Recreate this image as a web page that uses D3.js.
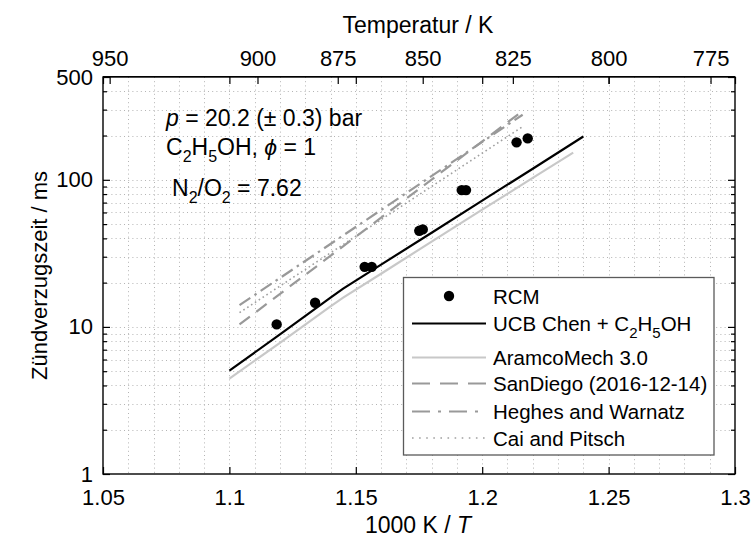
<!DOCTYPE html>
<html><head><meta charset="utf-8">
<script src="https://cdn.jsdelivr.net/npm/d3@7"></script>
<style>
body{margin:0;background:#fff}
text{font-family:"Liberation Sans",Arial,Helvetica,sans-serif;fill:#000}
</style>
</head><body>
<svg id="c" width="751" height="541"></svg>
<script>
// ---- data ----
const rcmX = [1.1187, 1.1339, 1.1535, 1.1563, 1.1751, 1.1765, 1.1919, 1.1936, 1.2136, 1.2180];
const rcmY = [10.4, 14.6, 25.6, 25.6, 45.0, 46.0, 85.1, 85.1, 179.7, 191.2];

const ucbX = [1.10, 1.12, 1.14, 1.145, 1.16, 1.18, 1.20, 1.22, 1.24];
const ucbY = [5.04, 8.9, 15.8, 18.2, 26.5, 43.7, 72.2, 119, 197];

const aramcoX = [1.10, 1.12, 1.14, 1.145, 1.16, 1.18, 1.20, 1.22, 1.236];
const aramcoY = [4.45, 7.8, 13.8, 15.8, 23.0, 38.0, 62.7, 103, 153];

const sandiegoX = [1.104, 1.216];
const sandiegoY = [10.4, 294];

const heghesX = [1.104, 1.216];
const heghesY = [14.05, 277];

const caiX = [1.104, 1.216];
const caiY = [12.5, 230];

const xTicks = [1.05, 1.1, 1.15, 1.2, 1.25, 1.3];
const xTickLabels = ["1.05", "1.1", "1.15", "1.2", "1.25", "1.3"];
const tempTicks = [950, 900, 875, 850, 825, 800, 775];
const yTicks = [1, 10, 100, 500];
const yMinorTicks = [2,3,4,5,6,7,8,9,20,30,40,50,60,70,80,90,200,300,400];

const legendLabels = ["RCM", "UCB Chen + C2H5OH", "AramcoMech 3.0", "SanDiego (2016-12-14)", "Heghes and Warnatz", "Cai and Pitsch"];

// ---- layout ----
const L = 103, R = 735, T = 77, B = 474;
const FS = 22, FT = 23;
const svg = d3.select("#c");
const x = d3.scaleLinear().domain([1.05, 1.3]).range([L, R]);
const y = d3.scaleLog().domain([1, 500]).range([B, T]);

// grid
const gridX = d3.range(106, 130).map(v => v / 100);
const gridY = yMinorTicks.concat([10, 100]);
const grid = svg.append("g").attr("stroke", "#b4b4b4").attr("stroke-width", 1).attr("stroke-dasharray", "1,3.2");
grid.selectAll("line.gx").data(gridX).join("line").attr("class","gx")
  .attr("x1", d => Math.round(x(d)) + 0.5).attr("x2", d => Math.round(x(d)) + 0.5).attr("y1", T).attr("y2", B);
grid.selectAll("line.gy").data(gridY).join("line").attr("class","gy")
  .attr("y1", d => Math.round(y(d)) + 0.5).attr("y2", d => Math.round(y(d)) + 0.5).attr("x1", L).attr("x2", R);

// series lines
const line = d3.line().x(d => x(d[0])).y(d => y(d[1]));
const zip = (a, b) => a.map((v, i) => [v, b[i]]);
const styles = [
  {xs: aramcoX, ys: aramcoY, stroke: "#c8c8c8", w: 2.2, dash: null, ldash: null},
  {xs: caiX, ys: caiY, stroke: "#a0a0a0", w: 1.6, dash: "1.6,3", ldash: "1.6,5.5"},
  {xs: heghesX, ys: heghesY, stroke: "#999", w: 2.2, dash: "13,5,2.5,5", ldash: "18,8,3,8"},
  {xs: sandiegoX, ys: sandiegoY, stroke: "#999", w: 2.2, dash: "13,8", ldash: "18,10"},
  {xs: ucbX, ys: ucbY, stroke: "#000", w: 2.2, dash: null, ldash: null}
];
styles.forEach(s => {
  svg.append("path").datum(zip(s.xs, s.ys)).attr("d", line)
    .attr("fill", "none").attr("stroke", s.stroke).attr("stroke-width", s.w)
    .attr("stroke-dasharray", s.dash);
});

// RCM points
svg.append("g").selectAll("circle").data(zip(rcmX, rcmY)).join("circle")
  .attr("cx", d => x(d[0])).attr("cy", d => y(d[1])).attr("r", 5.2).attr("fill", "#000");

// axes
function styleAxis(g) {
  g.select(".domain").remove();
  g.selectAll(".tick line").attr("stroke", "#000").attr("stroke-width", 1.2);
  g.selectAll("text").style("font-size", FS + "px").attr("fill", "#000");
}
svg.append("g").attr("transform", `translate(0,${B})`)
  .call(d3.axisBottom(x).tickValues(xTicks).tickFormat((d, i) => xTickLabels[i]).tickSize(-7).tickPadding(15))
  .call(styleAxis);
svg.append("g").attr("transform", `translate(0,${T})`)
  .call(d3.axisTop(x).tickValues(xTicks).tickFormat("").tickSize(-7))
  .call(styleAxis);
svg.append("g").attr("transform", `translate(0,${T})`)
  .call(d3.axisTop(x).tickValues(tempTicks.map(t => 1000 / t)).tickFormat(d => Math.round(1000 / d)).tickSize(-7).tickPadding(11))
  .call(styleAxis);
svg.append("g").attr("transform", `translate(${L},0)`)
  .call(d3.axisLeft(y).tickValues(yTicks).tickFormat(d3.format("d")).tickSize(-7).tickPadding(10))
  .call(styleAxis);
svg.append("g").attr("transform", `translate(${L},0)`)
  .call(d3.axisLeft(y).tickValues(yMinorTicks).tickFormat("").tickSize(-4))
  .call(styleAxis);
svg.append("g").attr("transform", `translate(${R},0)`)
  .call(d3.axisRight(y).tickValues(yTicks).tickFormat("").tickSize(-7))
  .call(styleAxis);
svg.append("g").attr("transform", `translate(${R},0)`)
  .call(d3.axisRight(y).tickValues(yMinorTicks).tickFormat("").tickSize(-4))
  .call(styleAxis);

// frame
svg.append("rect").attr("x", L).attr("y", T).attr("width", R - L).attr("height", B - T)
  .attr("fill", "none").attr("stroke", "#000").attr("stroke-width", 1.4);
svg.append("line").attr("x1", L).attr("x2", R).attr("y1", T - 0.5).attr("y2", T - 0.5)
  .attr("stroke", "#000").attr("stroke-width", 1);

// axis titles
svg.append("text").attr("x", 418).attr("y", 33).attr("text-anchor", "middle")
  .style("font-size", FT + "px").text("Temperatur / K");
const xt = svg.append("text").attr("x", 418).attr("y", 533).attr("text-anchor", "middle")
  .style("font-size", FT + "px");
xt.append("tspan").text("1000 K / ");
xt.append("tspan").attr("font-style", "italic").text("T");
svg.append("text").attr("transform", `translate(47,${(T + B) / 2}) rotate(-90)`).attr("text-anchor", "middle")
  .style("font-size", FS + "px").text("Zündverzugszeit / ms");

// annotation
function sub(t, s, fs) { t.append("tspan").attr("dy", 7).style("font-size", (fs || 16) + "px").text(s); }
function back(t, s) { t.append("tspan").attr("dy", -7).text(s); }
const a1 = svg.append("text").attr("x", 166).attr("y", 126).style("font-size", FT + "px");
a1.append("tspan").attr("font-style", "italic").text("p");
a1.append("tspan").text(" = 20.2 (\u00B1 0.3) bar");
const a2 = svg.append("text").attr("x", 166).attr("y", 155).style("font-size", FT + "px");
a2.append("tspan").text("C");
sub(a2, "2"); back(a2, "H"); sub(a2, "5"); back(a2, "OH, ");
a2.append("tspan").attr("font-style", "italic").text("\u03D5");
a2.append("tspan").text(" = 1");
const a3 = svg.append("text").attr("x", 172).attr("y", 196).style("font-size", FT + "px");
a3.append("tspan").text("N");
sub(a3, "2"); back(a3, "/O"); sub(a3, "2"); back(a3, " = 7.62");

// legend
const lg = svg.append("g");
lg.append("rect").attr("x", 403.5).attr("y", 277.5).attr("width", 310.5).attr("height", 177.5)
  .attr("fill", "#fff").attr("stroke", "#5a5a5a").attr("stroke-width", 1.3);
const rowY = [296, 323.5, 357.5, 383.5, 411.5, 438];
const lx1 = 412, lx2 = 486, tx = 493;
lg.append("circle").attr("cx", 449).attr("cy", rowY[0]).attr("r", 5.2).attr("fill", "#000");
const legStyles = [null, styles[4], styles[0], styles[3], styles[2], styles[1]];
legStyles.forEach((s, i) => {
  if (s) lg.append("line").attr("x1", lx1).attr("x2", lx2).attr("y1", rowY[i]).attr("y2", rowY[i])
    .attr("stroke", s.stroke).attr("stroke-width", s.w).attr("stroke-dasharray", s.ldash);
});
legendLabels.forEach((lab, i) => {
  const t = lg.append("text").attr("x", tx).attr("y", rowY[i] + 7.5).style("font-size", "20.5px");
  if (i === 1) {
    t.append("tspan").text("UCB Chen + C");
    sub(t, "2", 15); back(t, "H"); sub(t, "5", 15); back(t, "OH");
  } else t.text(lab);
});
</script>
</body></html>
